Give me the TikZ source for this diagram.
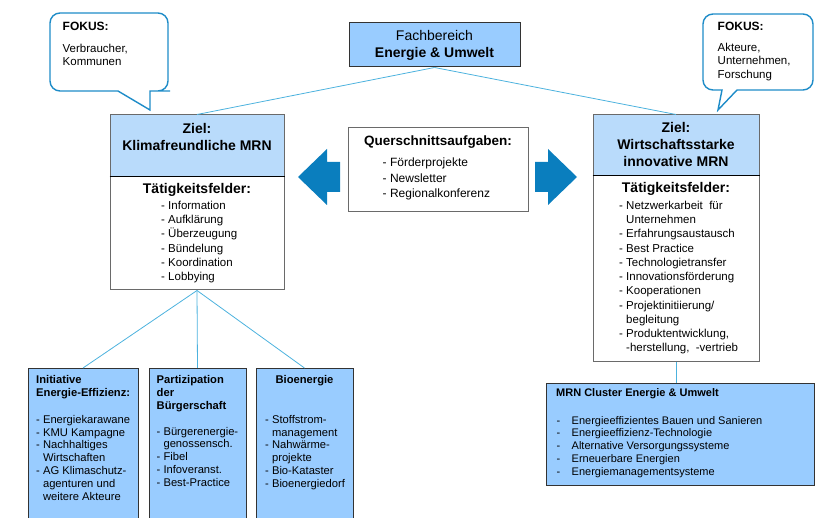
\documentclass[tikz,border=0pt]{standalone}
\usepackage{fontspec}
\setmainfont{Liberation Sans}
\usetikzlibrary{positioning, arrows, shapes.geometric}
\definecolor{fbblau}{HTML}{99CCFF}
\definecolor{zielblau}{HTML}{B9DBFB}
\definecolor{pfeilblau}{HTML}{0A7EBE}
\definecolor{linienblau}{HTML}{4CB2DE}
\definecolor{blasenblau}{HTML}{1E8CC8}
\definecolor{rahmengrau}{HTML}{6A6A6A}
\newcommand{\schrift}[2]{\fontsize{#1}{#2}\selectfont}
\newcommand{\einzug}{\phantom{- }}

\begin{document}
\begin{tikzpicture}
		[x=1pt,y=-1pt,
		kasten/.style={rectangle,draw=rahmengrau,line width=1pt,inner sep=0pt},
		blaukasten/.style={kasten,draw=black!80,fill=fbblau},
		zielkasten/.style={kasten,fill=zielblau},
		titel/.style={font=\bfseries\schrift{14}{17},align=center,inner sep=0pt},
		liste/.style={font=\schrift{11.5}{14.3},align=left,inner sep=0pt,anchor=north west},
		klein/.style={font=\schrift{11.2}{12.8},align=left,inner sep=0pt,anchor=north west},
		kleintitel/.style={klein,font=\bfseries\schrift{11.2}{13}},
		verbindung/.style={draw=linienblau,line width=0.8pt},
		blase/.style={draw=blasenblau,line width=1.4pt,fill=white},
		pfeil/.style={fill=pfeilblau}]
		\clip (0,0) rectangle (815,518);
		
		% Sprechblasen
		\draw[blase] (150,110) -- (118,91) -- (62,91) [rounded corners=10pt] -- (50,91) -- (50,13) -- (168,13) -- (168,91) -- (160,91) [sharp corners] -- (150,91) -- cycle;
		\draw[blase] (718,110) -- (722,90) -- (714,90) [rounded corners=10pt] -- (703,90) -- (703,14) -- (813,14) -- (813,90) -- (747,90) [sharp corners] -- (737,90) -- cycle;
		\node[kleintitel,font=\bfseries\schrift{12}{14}] (lfokus) at (62.5,21.5) {FOKUS:};
		\node[liste,font=\schrift{11.5}{13.5}] (lfokustext) at (62.5,43.5) {Verbraucher,\\Kommunen};
		\node[kleintitel,font=\bfseries\schrift{12}{14}] (rfokus) at (717.5,21.5) {FOKUS:};
		\node[liste,font=\schrift{11.5}{13.8}] (rfokustext) at (717.5,42.5) {Akteure,\\Unternehmen,\\Forschung};
		
		% Fachbereich
		\node[blaukasten,minimum width=171pt,minimum height=44pt,font=\schrift{14}{17},align=center] (fb) at (434.5,45) {Fachbereich\\\textbf{Energie \& Umwelt}};
		
		% Ziel links
		\node[zielkasten,minimum width=174pt,minimum height=62pt] (lzt) at (197,146) {};
		\node[titel,below=9pt of lzt.north] (lzttext) {Ziel:\\Klimafreundliche MRN};
		\node[kasten,fill=white,minimum width=174pt,minimum height=113pt] (lzb) at (197,233.5) {};
		\draw[black,line width=1.3pt] (lzb.north west) -- (lzb.north east);
		\node[titel,below=6.5pt of lzb.north] (ltf) {Tätigkeitsfelder:};
		\node[liste] (lliste) at (161,200.6) {- Information\\- Aufklärung\\- Überzeugung\\- Bündelung\\- Koordination\\- Lobbying};
		
		% Querschnitt
		\node[kasten,minimum width=180pt,minimum height=84pt] (qa) at (438,170) {};
		\node[titel,font=\bfseries\schrift{13.5}{16},below=8.5pt of qa.north] (qatitel) {Querschnittsaufgaben:};
		\node[liste,font=\schrift{12}{15.4}] (qaliste) at (382.5,158) {- Förderprojekte\\- Newsletter\\- Regionalkonferenz};
		\fill[pfeil] (298,177) -- (327,149) -- (327,162) -- (340,162) -- (340,192) -- (327,192) -- (327,205) -- cycle;
		\fill[pfeil] (577,177) -- (548,149) -- (548,162) -- (535,162) -- (535,192) -- (548,192) -- (548,205) -- cycle;
		
		% Ziel rechts
		\node[zielkasten,minimum width=166pt,minimum height=61pt] (rzt) at (676,145.5) {};
		\node[titel,below=8pt of rzt.north] (rzttext) {Ziel:\\Wirtschaftsstarke\\innovative MRN};
		\node[kasten,fill=white,minimum width=166pt,minimum height=186pt] (rzb) at (676,269) {};
		\draw[black,line width=1.3pt] (rzb.north west) -- (rzb.north east);
		\node[titel,below=7pt of rzb.north] (rtf) {Tätigkeitsfelder:};
		\node[liste,font=\schrift{11.5}{14.24}] (rliste) at (619,200.8) {- Netzwerkarbeit\ \ für\\\einzug Unternehmen\\- Erfahrungsaustausch\\- Best Practice\\- Technologietransfer\\- Innovationsförderung\\- Kooperationen\\- Projektinitiierung/\\\einzug begleitung\\- Produktentwicklung,\\\einzug -herstellung,\ \ -vertrieb};
		
		% untere Kaesten
		\node[blaukasten,minimum width=110pt,minimum height=154pt,anchor=north] (ini) at (83,368) {};
		\node[blaukasten,minimum width=97pt,minimum height=154pt,anchor=north] (par) at (197.5,368) {};
		\node[blaukasten,minimum width=97pt,minimum height=154pt,anchor=north] (bio) at (304.5,368) {};
		\node[kleintitel] (initext) at (36,375) {Initiative\\Energie-Effizienz:};
		\node[klein] (iniliste) at (36,415) {- Energiekarawane\\- KMU Kampagne\\- Nachhaltiges\\\einzug Wirtschaften\\- AG Klimaschutz-\\\einzug agenturen und\\\einzug weitere Akteure};
		\node[kleintitel] (partext) at (156.5,375) {Partizipation\\der\\Bürgerschaft};
		\node[klein] (parliste) at (156.5,426.7) {- Bürgerenergie-\\\einzug genossensch.\\- Fibel\\- Infoveranst.\\- Best-Practice};
		\node[kleintitel,anchor=north,below=6.8pt of bio.north] (biotext) {Bioenergie};
		\node[klein] (bioliste) at (265,415) {- Stoffstrom-\\\einzug management\\- Nahwärme-\\\einzug projekte\\- Bio-Kataster\\- Bioenergiedorf};
		
		% Cluster
		\node[blaukasten,minimum width=268pt,minimum height=102pt,anchor=north west] (clu) at (546,383) {};
		\node[kleintitel,font=\bfseries\schrift{11}{13}] (clutitel) at (556,388) {MRN Cluster Energie \& Umwelt};
		\node[klein,font=\schrift{11}{12.75}] (cluliste) at (556.5,416) {\makebox[15pt][l]{-}Energieeffizientes Bauen und Sanieren\\\makebox[15pt][l]{-}Energieeffizienz-Technologie\\\makebox[15pt][l]{-}Alternative Versorgungssysteme\\\makebox[15pt][l]{-}Erneuerbare Energien\\\makebox[15pt][l]{-}Energiemanagementsysteme};
		
		% Verbindungen
		\path[verbindung] (fb.south) edge (lzt.north) edge (rzt.north);
		\path[verbindung] (lzb.south) edge (ini.north) edge (par.north) edge (bio.north);
		\path[verbindung] (rzb.south) edge (rzb.south |- clu.north);
		
	\end{tikzpicture}
\end{document}
